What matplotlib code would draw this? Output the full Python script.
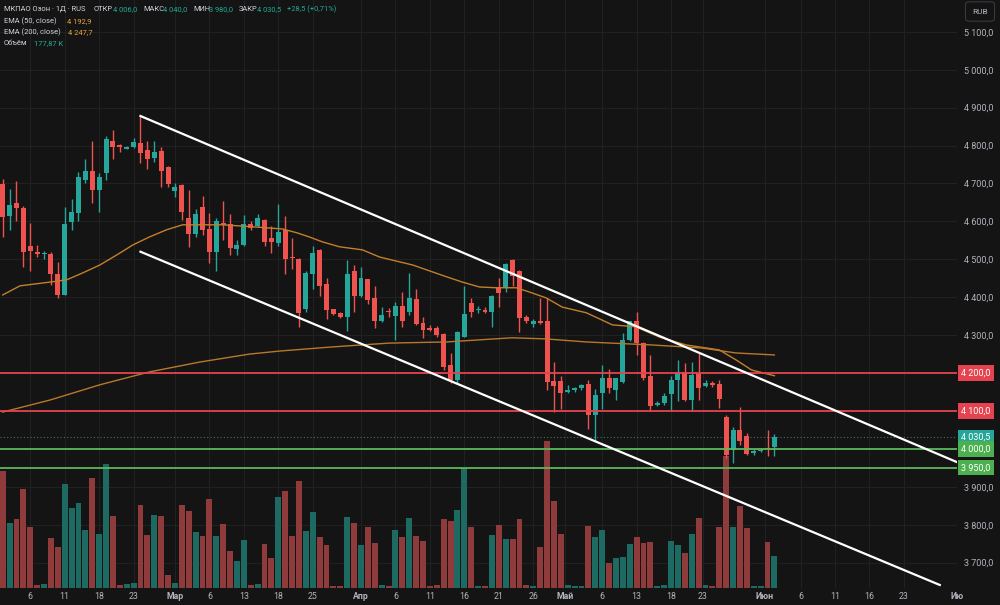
import matplotlib
matplotlib.use('Agg')
import matplotlib.pyplot as plt
from matplotlib.transforms import blended_transform_factory

plt.rcParams['font.family'] = ['Roboto', 'DejaVu Sans']

# ---------------- data ----------------
opens = [4699, 4613, 4648, 4635, 4534, 4520, 4513, 4514, 4462, 4407,
         4598, 4622, 4708, 4733, 4683, 4727, 4813, 4802, 4792, 4795,
         4808, 4789, 4767, 4785, 4743, 4681, 4696, 4609, 4567, 4637,
         4579, 4520, 4595, 4593, 4527, 4538, 4593, 4588, 4604, 4556,
         4544, 4578, 4507, 4500, 4368, 4461, 4525, 4435, 4368, 4358,
         4347, 4468, 4402, 4447, 4397, 4336, 4363, 4351, 4377, 4360,
         4395, 4331, 4318, 4318, 4303, 4220, 4182, 4296, 4384, 4367,
         4366, 4362, 4428, 4424, 4498, 4470, 4349, 4330, 4336, 4336,
         4180, 4178, 4149, 4154, 4160, 4170, 4089, 4148, 4186, 4155,
         4177, 4286, 4336, 4279, 4191, 4115, 4120, 4145, 4182, 4204,
         4129, 4198, 4166, 4175, 4171, 4085, 3997, 4050, 4034, 3988,
         3995, 4002, 4006]
highs = [4712, 4685, 4707, 4640, 4597, 4538, 4523, 4520, 4494, 4637,
         4659, 4729, 4764, 4813, 4727, 4826, 4841, 4804, 4799, 4819,
         4878, 4813, 4813, 4796, 4745, 4701, 4699, 4683, 4632, 4666,
         4622, 4608, 4655, 4619, 4551, 4617, 4600, 4619, 4606, 4588,
         4646, 4613, 4556, 4503, 4468, 4535, 4527, 4450, 4370, 4360,
         4498, 4485, 4481, 4449, 4430, 4374, 4371, 4388, 4415, 4463,
         4421, 4349, 4327, 4324, 4305, 4252, 4310, 4430, 4397, 4377,
         4375, 4405, 4450, 4490, 4500, 4472, 4352, 4342, 4397, 4397,
         4230, 4192, 4169, 4164, 4171, 4182, 4157, 4221, 4210, 4188,
         4305, 4338, 4362, 4281, 4248, 4125, 4147, 4192, 4235, 4226,
         4230, 4254, 4182, 4178, 4182, 4089, 4057, 4111, 4041, 3999,
         4001, 4050, 4040]
lows = [4558, 4576, 4600, 4479, 4468, 4507, 4501, 4433, 4397, 4405,
        4576, 4600, 4701, 4648, 4625, 4709, 4764, 4782, 4790, 4793,
        4754, 4738, 4758, 4692, 4690, 4664, 4604, 4532, 4560, 4564,
        4491, 4470, 4551, 4512, 4512, 4536, 4576, 4586, 4534, 4516,
        4534, 4461, 4474, 4321, 4362, 4421, 4402, 4342, 4353, 4345,
        4312, 4362, 4400, 4382, 4318, 4334, 4347, 4287, 4321, 4353,
        4327, 4292, 4312, 4296, 4208, 4173, 4173, 4294, 4347, 4359,
        4359, 4321, 4375, 4415, 4430, 4307, 4331, 4321, 4329, 4154,
        4096, 4104, 4148, 4151, 4156, 4052, 4022, 4104, 4147, 4129,
        4175, 4284, 4248, 4182, 4101, 4113, 4116, 4101, 4125, 4127,
        4101, 4129, 4162, 4162, 4107, 3975, 3962, 4010, 3983, 3984,
        3993, 3981, 3980]
closes = [4611, 4643, 4636, 4520, 4521, 4514, 4517, 4460, 4407, 4593,
          4626, 4716, 4733, 4682, 4716, 4817, 4796, 4796, 4797, 4809,
          4780, 4764, 4782, 4733, 4699, 4690, 4625, 4567, 4620, 4578,
          4518, 4600, 4590, 4529, 4537, 4593, 4582, 4610, 4545, 4545,
          4573, 4500, 4503, 4358, 4463, 4516, 4430, 4366, 4356, 4347,
          4461, 4402, 4452, 4393, 4336, 4353, 4360, 4377, 4336, 4397,
          4330, 4314, 4314, 4301, 4217, 4182, 4308, 4356, 4362, 4370,
          4360, 4403, 4411, 4488, 4455, 4345, 4336, 4336, 4331, 4177,
          4166, 4147, 4154, 4160, 4169, 4089, 4142, 4186, 4160, 4186,
          4287, 4336, 4279, 4186, 4113, 4122, 4140, 4182, 4204, 4129,
          4195, 4160, 4175, 4169, 4131, 3983, 4050, 4022, 3986, 3995,
          3998, 3999, 4030.5]
volumes_k = [652, 359, 382, 550, 337, 15, 20, 280, 230, 580,
             447, 474, 321, 610, 302, 691, 398, 19, 20, 28,
             463, 293, 404, 400, 74, 30, 460, 426, 309, 287,
             497, 291, 358, 208, 152, 269, 15, 20, 243, 169,
             504, 539, 287, 595, 317, 421, 282, 237, 9, 13,
             393, 359, 241, 337, 252, 15, 9, 321, 282, 387,
             289, 263, 13, 19, 385, 374, 432, 667, 337, 9,
             9, 293, 348, 272, 272, 385, 17, 9, 230, 815,
             485, 302, 15, 9, 9, 345, 283, 321, 137, 167,
             174, 243, 283, 250, 254, 9, 15, 261, 239, 193,
             298, 389, 15, 9, 337, 732, 337, 454, 332, 13,
             9, 254, 178]

ema50_idx = [0, 2.5, 6.9, 9.3, 11.6, 14.1, 16.6, 18.9, 21.3, 23.8, 26.1, 32,
             36.9, 40.6, 42.7, 44.5, 46.4, 48.9, 52.2, 54.7, 59.5, 64.4, 66.7,
             69.2, 71.6, 74.5, 76.4, 78.9, 81.2, 84.7, 88.5, 91.9, 95.3, 99.2,
             104, 106.4, 108.7, 112]
ema50_val = [4406, 4430, 4440, 4446, 4464, 4485, 4512, 4538, 4559, 4578, 4591,
             4591, 4585, 4580, 4570, 4559, 4546, 4533, 4525, 4506, 4485, 4454,
             4440, 4427, 4425, 4425, 4414, 4398, 4374, 4359, 4327, 4322, 4295,
             4274, 4261, 4235, 4208, 4192.9]
ema200_idx = [0, 6.9, 14.1, 21.3, 28.6, 35.8, 40.2, 47.9, 56.1, 64.4, 73.9,
              78.9, 84.7, 94.3, 101.5, 106.4, 112]
ema200_val = [4097, 4129, 4169, 4203, 4229, 4250, 4258, 4269, 4279, 4282, 4293,
              4290, 4282, 4274, 4266, 4253, 4247.7]

trend_upper_idx = [20, 138.5]
trend_upper_val = [4878, 3965]
trend_lower_idx = [20, 136]
trend_lower_val = [4520, 3641]

red_levels = [4200, 4100]
green_levels = [4000, 3950]
last_price = 4030.5

xtick_pos = [4, 9, 14, 19, 25, 30, 35, 40, 45, 52, 57, 62, 67, 72, 77, 81.6,
             87, 92, 97, 101.6, 110.6, 115.8, 120.8, 125.8, 130.8, 138.5]
xtick_labels = ['6', '11', '18', '23', 'Мар', '6', '13', '18', '25', 'Апр', '6',
                '11', '16', '21', '26', 'Май', '6', '13', '18', '23', 'Июн', '6',
                '11', '16', '23', 'Ию']
month_names = ['Мар', 'Апр', 'Май', 'Июн', 'Ию']
price_ticks = list(range(3700, 5101, 100))

# ---------------- style ----------------
BG = '#141414'
GRID = '#212121'
UP = '#26a69a'
DOWN = '#ef5350'
VUP = '#1d6a62'
VDOWN = '#8f3b3b'
TXT = '#b2b5be'
W, H = 1000, 605
PLOT_R, PLOT_B = 957, 588


def fmt(p):
    return f"{p:,.1f}".replace(',', ' ').replace('.', ',')


fig = plt.figure(figsize=(W / 100, H / 100), dpi=100, facecolor=BG)
ax = fig.add_axes([0, (H - PLOT_B) / H, PLOT_R / W, PLOT_B / H])
axv = ax.twinx()
ax.set_zorder(2)
ax.patch.set_visible(False)
axv.set_zorder(1)
axv.patch.set_visible(True)
axv.set_facecolor(BG)

xlo, xhi = -0.39, 138.3
ylo, yhi = 3633, 5184
vtop = 3269
ax.set_xlim(xlo, xhi)
ax.set_ylim(ylo, yhi)
axv.set_ylim(0, vtop)

# grid (drawn in the background axes)
for xp in xtick_pos:
    axv.axvline(xp, color=GRID, lw=0.8, zorder=0)
for p in price_ticks:
    axv.axhline((p - ylo) / (yhi - ylo) * vtop, color=GRID, lw=0.8, zorder=0)

# volume
idx = list(range(len(closes)))
vcols = [VUP if c >= o else VDOWN for o, c in zip(opens, closes)]
axv.bar(idx, volumes_k, width=0.86, color=vcols, zorder=1)
axv.yaxis.set_visible(False)

# candles
cols = [UP if c >= o else DOWN for o, c in zip(opens, closes)]
ax.vlines(idx, lows, highs, colors=cols, lw=1, zorder=3)
bottoms = [min(o, c) for o, c in zip(opens, closes)]
heights = [max(abs(c - o), 2.5) for o, c in zip(opens, closes)]
ax.bar(idx, heights, bottom=bottoms, width=0.72, color=cols, zorder=4)

# EMAs
ax.plot(ema50_idx, ema50_val, color='#c47f2a', lw=1.0, zorder=5)
ax.plot(ema200_idx, ema200_val, color='#b8782c', lw=1.0, zorder=5)

# horizontal levels
for lv in red_levels:
    ax.axhline(lv, color='#e5434f', lw=1.3, zorder=6)
for lv in green_levels:
    ax.axhline(lv, color='#5cb85c', lw=1.3, zorder=6)
ax.axhline(last_price, color='#456e6a', lw=0.8, ls=(0, (1, 2)), zorder=2)

# trend lines
ax.plot(trend_upper_idx, trend_upper_val, color='white', lw=1.6, zorder=7, clip_on=True)
ax.plot(trend_lower_idx, trend_lower_val, color='white', lw=1.6, zorder=7, clip_on=True)

# axes formatting
for sp in list(ax.spines.values()) + list(axv.spines.values()):
    sp.set_visible(False)
ax.set_xticks(xtick_pos)
ax.set_xticklabels(xtick_labels)
ax.tick_params(axis='x', length=0, pad=3, labelsize=6.3, labelcolor=TXT)
for t in ax.get_xticklabels():
    if t.get_text() in month_names:
        t.set_fontweight('bold')
ax.yaxis.tick_right()
ax.set_yticks(price_ticks)
boxed = set(red_levels + green_levels)
ax.set_yticklabels(['' if p in boxed else fmt(p) for p in price_ticks])
ax.tick_params(axis='y', length=0, pad=5, labelsize=6.5, labelcolor=TXT)

# price-scale boxes
tr = blended_transform_factory(ax.transAxes, ax.transData)
box_items = [(lv, '#e5434f') for lv in red_levels] + \
            [(last_price, UP)] + [(lv, '#4caf50') for lv in green_levels]
for lv, col in box_items:
    ax.text(1.0045, lv, fmt(lv), transform=tr, ha='left', va='center',
            fontsize=6.5, color='white', clip_on=False, zorder=10,
            bbox=dict(boxstyle='square,pad=0.35', fc=col, ec='none'))

# RUB box
fig.text(980 / W, 1 - 11.5 / H, 'RUB', ha='center', va='center', fontsize=6,
         color=TXT, bbox=dict(boxstyle='round,pad=0.8,rounding_size=0.4',
                              fc=BG, ec='#3a3a3a', lw=0.8))

# legend text
LEG = '#d1d4dc'
VAL = '#22ab94'
ORG = '#e8a33d'


def ftxt(x, y, s, c):
    fig.text(x / W, 1 - y / H, s, ha='left', va='center', fontsize=5.4, color=c)


ftxt(4, 9.3, 'МКПАО Озон · 1Д · RUS', LEG)
ftxt(94, 9.3, 'ОТКР', LEG)
ftxt(113, 9.3, fmt(opens[-1]), VAL)
ftxt(143, 9.3, 'МАКС', LEG)
ftxt(163, 9.3, fmt(highs[-1]), VAL)
ftxt(193, 9.3, 'МИН', LEG)
ftxt(209, 9.3, fmt(lows[-1]), VAL)
ftxt(239, 9.3, 'ЗАКР', LEG)
ftxt(257, 9.3, fmt(closes[-1]), VAL)
ftxt(287, 9.3, '+28,5 (+0,71%)', VAL)
ftxt(4, 21.7, 'EMA (50, close)', LEG)
ftxt(67, 21.7, fmt(ema50_val[-1]), ORG)
ftxt(4, 32.7, 'EMA (200, close)', LEG)
ftxt(68, 32.7, fmt(ema200_val[-1]), ORG)
ftxt(4, 43.3, 'Объём', LEG)
ftxt(34, 43.3, '177,87 K', VAL)

fig.savefig('out.png', dpi=100, facecolor=BG)
